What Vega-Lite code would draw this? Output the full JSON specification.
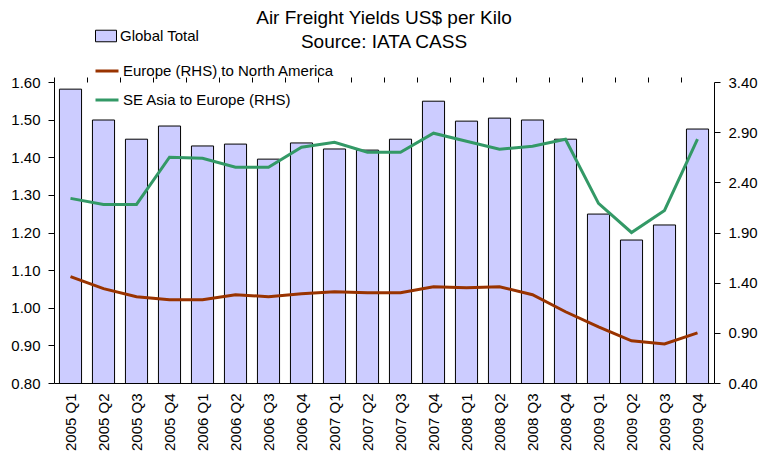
{
  "$schema": "https://vega.github.io/schema/vega-lite/v6.json",
  "width": 660,
  "height": 301,
  "autosize": {"type": "none"},
  "padding": {"left": 54, "top": 82, "right": 49, "bottom": 81},
  "background": "white",
  "config": {
    "font": "Liberation Sans",
    "view": {"stroke": null},
    "axis": {"grid": false, "labelFont": "Liberation Sans", "labelFontSize": 15, "labelColor": "black", "domainColor": "black", "tickColor": "black"},
    "legend": {"labelFont": "Liberation Sans", "labelFontSize": 15, "labelColor": "black", "padding": 0, "orient": "none", "labelLimit": 0, "labelOffset": 3}
  },
  "title": {"text": ["Air Freight Yields US$ per Kilo", "Source: IATA CASS"], "fontSize": 19, "fontWeight": "normal", "font": "Liberation Sans", "lineHeight": 24, "anchor": "middle", "offset": -27, "color": "black"},
  "datasets": {
    "bars": [
      {"q": "2005 Q1", "series": "Global Total", "value": 1.581},
      {"q": "2005 Q2", "series": "Global Total", "value": 1.499},
      {"q": "2005 Q3", "series": "Global Total", "value": 1.448},
      {"q": "2005 Q4", "series": "Global Total", "value": 1.483},
      {"q": "2006 Q1", "series": "Global Total", "value": 1.430},
      {"q": "2006 Q2", "series": "Global Total", "value": 1.435},
      {"q": "2006 Q3", "series": "Global Total", "value": 1.395},
      {"q": "2006 Q4", "series": "Global Total", "value": 1.438},
      {"q": "2007 Q1", "series": "Global Total", "value": 1.422},
      {"q": "2007 Q2", "series": "Global Total", "value": 1.419},
      {"q": "2007 Q3", "series": "Global Total", "value": 1.448},
      {"q": "2007 Q4", "series": "Global Total", "value": 1.549},
      {"q": "2008 Q1", "series": "Global Total", "value": 1.496},
      {"q": "2008 Q2", "series": "Global Total", "value": 1.504},
      {"q": "2008 Q3", "series": "Global Total", "value": 1.499},
      {"q": "2008 Q4", "series": "Global Total", "value": 1.448},
      {"q": "2009 Q1", "series": "Global Total", "value": 1.249},
      {"q": "2009 Q2", "series": "Global Total", "value": 1.180},
      {"q": "2009 Q3", "series": "Global Total", "value": 1.220},
      {"q": "2009 Q4", "series": "Global Total", "value": 1.475}
    ],
    "lines": [
      {"q": "2005 Q1", "series": "Europe (RHS) to North America", "value": 1.46},
      {"q": "2005 Q2", "series": "Europe (RHS) to North America", "value": 1.34},
      {"q": "2005 Q3", "series": "Europe (RHS) to North America", "value": 1.26},
      {"q": "2005 Q4", "series": "Europe (RHS) to North America", "value": 1.23},
      {"q": "2006 Q1", "series": "Europe (RHS) to North America", "value": 1.23},
      {"q": "2006 Q2", "series": "Europe (RHS) to North America", "value": 1.28},
      {"q": "2006 Q3", "series": "Europe (RHS) to North America", "value": 1.26},
      {"q": "2006 Q4", "series": "Europe (RHS) to North America", "value": 1.29},
      {"q": "2007 Q1", "series": "Europe (RHS) to North America", "value": 1.31},
      {"q": "2007 Q2", "series": "Europe (RHS) to North America", "value": 1.30},
      {"q": "2007 Q3", "series": "Europe (RHS) to North America", "value": 1.30},
      {"q": "2007 Q4", "series": "Europe (RHS) to North America", "value": 1.36},
      {"q": "2008 Q1", "series": "Europe (RHS) to North America", "value": 1.35},
      {"q": "2008 Q2", "series": "Europe (RHS) to North America", "value": 1.36},
      {"q": "2008 Q3", "series": "Europe (RHS) to North America", "value": 1.28},
      {"q": "2008 Q4", "series": "Europe (RHS) to North America", "value": 1.11},
      {"q": "2009 Q1", "series": "Europe (RHS) to North America", "value": 0.96},
      {"q": "2009 Q2", "series": "Europe (RHS) to North America", "value": 0.82},
      {"q": "2009 Q3", "series": "Europe (RHS) to North America", "value": 0.79},
      {"q": "2009 Q4", "series": "Europe (RHS) to North America", "value": 0.90},
      {"q": "2005 Q1", "series": "SE Asia to Europe (RHS)", "value": 2.24},
      {"q": "2005 Q2", "series": "SE Asia to Europe (RHS)", "value": 2.18},
      {"q": "2005 Q3", "series": "SE Asia to Europe (RHS)", "value": 2.18},
      {"q": "2005 Q4", "series": "SE Asia to Europe (RHS)", "value": 2.65},
      {"q": "2006 Q1", "series": "SE Asia to Europe (RHS)", "value": 2.64},
      {"q": "2006 Q2", "series": "SE Asia to Europe (RHS)", "value": 2.55},
      {"q": "2006 Q3", "series": "SE Asia to Europe (RHS)", "value": 2.55},
      {"q": "2006 Q4", "series": "SE Asia to Europe (RHS)", "value": 2.75},
      {"q": "2007 Q1", "series": "SE Asia to Europe (RHS)", "value": 2.80},
      {"q": "2007 Q2", "series": "SE Asia to Europe (RHS)", "value": 2.70},
      {"q": "2007 Q3", "series": "SE Asia to Europe (RHS)", "value": 2.70},
      {"q": "2007 Q4", "series": "SE Asia to Europe (RHS)", "value": 2.89},
      {"q": "2008 Q1", "series": "SE Asia to Europe (RHS)", "value": 2.81},
      {"q": "2008 Q2", "series": "SE Asia to Europe (RHS)", "value": 2.73},
      {"q": "2008 Q3", "series": "SE Asia to Europe (RHS)", "value": 2.76},
      {"q": "2008 Q4", "series": "SE Asia to Europe (RHS)", "value": 2.83},
      {"q": "2009 Q1", "series": "SE Asia to Europe (RHS)", "value": 2.19},
      {"q": "2009 Q2", "series": "SE Asia to Europe (RHS)", "value": 1.90},
      {"q": "2009 Q3", "series": "SE Asia to Europe (RHS)", "value": 2.12},
      {"q": "2009 Q4", "series": "SE Asia to Europe (RHS)", "value": 2.83}
    ]
  },
  "layer": [
    {
      "data": {"name": "bars"},
      "mark": {"type": "bar", "width": {"band": 0.67}, "stroke": "black", "strokeWidth": 1, "clip": true},
      "encoding": {
        "x": {"field": "q", "type": "nominal", "sort": null, "scale": {"paddingInner": 0, "paddingOuter": 0},
          "axis": {"title": null, "labelAngle": -90, "ticks": false, "labelPadding": 10, "domain": true}},
        "y": {"field": "value", "type": "quantitative", "scale": {"domain": [0.8, 1.6], "zero": false},
          "axis": {"title": null, "values": [0.8, 0.9, 1.0, 1.1, 1.2, 1.3, 1.4, 1.5, 1.6], "format": ".2f", "tickSize": 6, "labelPadding": 8}},
        "fill": {"field": "series", "type": "nominal", "scale": {"range": ["#ccccff"]},
          "legend": {"title": null, "legendX": 41, "legendY": -57, "symbolType": "M-1,-0.55H1V0.55H-1Z", "symbolSize": 441, "symbolStrokeColor": "black", "symbolStrokeWidth": 1, "symbolOpacity": 1}}
      }
    },
    {
      "data": {"name": "lines"},
      "mark": {"type": "line", "strokeWidth": 3},
      "encoding": {
        "x": {"field": "q", "type": "nominal", "sort": null,
          "axis": {"title": null, "labels": false, "ticks": true, "bandPosition": 0, "tickSize": 5, "domain": false}},
        "y": {"field": "value", "type": "quantitative", "scale": {"domain": [0.4, 3.4], "zero": false},
          "axis": {"orient": "right", "title": null, "values": [0.4, 0.9, 1.4, 1.9, 2.4, 2.9, 3.4], "format": ".2f", "tickSize": 6, "labelPadding": 8}},
        "stroke": {"field": "series", "type": "nominal", "scale": {"domain": ["Europe (RHS) to North America", "SE Asia to Europe (RHS)"], "range": ["#993300", "#339966"]},
          "legend": {"title": null, "legendX": 40, "legendY": -24, "symbolType": "stroke", "symbolSize": 529, "symbolStrokeWidth": 3, "rowPadding": 8}}
      }
    }
  ],
  "resolve": {"scale": {"y": "independent"}, "axis": {"x": "independent"}}
}
